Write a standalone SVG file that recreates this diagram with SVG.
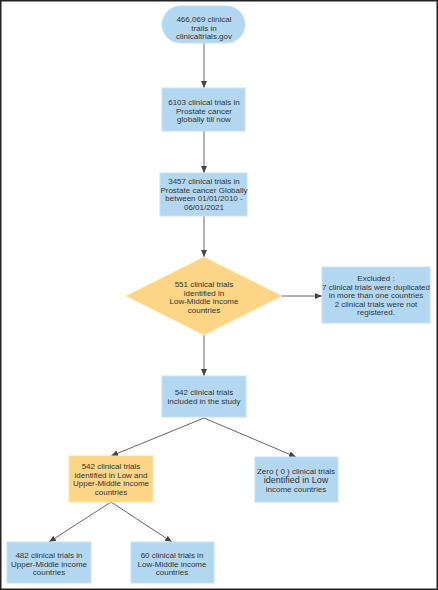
<svg xmlns="http://www.w3.org/2000/svg" width="438" height="590" viewBox="0 0 438 590">
<style>
.b{fill:#b3d7f1;stroke:#c6e1f5;stroke-width:1}
.o{fill:#fdd587;stroke:#fde2ab;stroke-width:1}
text{font-family:"Liberation Sans",Arial,sans-serif;font-size:8px;fill:#333;text-anchor:middle}
.c line{stroke:#666;stroke-width:1}
</style>
<defs>
<marker id="a" markerWidth="8" markerHeight="8" refX="7" refY="4" orient="auto" markerUnits="userSpaceOnUse">
<path d="M0,1 L7,4 L0,7 Z" fill="#444"/>
</marker>
</defs>
<rect x="0.75" y="0.75" width="436.5" height="588.5" fill="#fff" stroke="#222" stroke-width="1.5"/>
<g class="c">
<line x1="204" y1="43" x2="204" y2="88" marker-end="url(#a)"/>
<line x1="204" y1="131" x2="204" y2="173" marker-end="url(#a)"/>
<line x1="204" y1="216" x2="204" y2="257" marker-end="url(#a)"/>
<line x1="282" y1="296" x2="322" y2="296" marker-end="url(#a)"/>
<line x1="204" y1="335" x2="204" y2="376" marker-end="url(#a)"/>
<line x1="204" y1="418" x2="111" y2="456" marker-end="url(#a)"/>
<line x1="204" y1="418" x2="296" y2="457" marker-end="url(#a)"/>
<line x1="111" y1="502" x2="49" y2="542" marker-end="url(#a)"/>
<line x1="111" y1="502" x2="172" y2="542" marker-end="url(#a)"/>
</g>
<g id="n1"><rect class="b" x="162" y="6" width="83" height="37" rx="18.5"/>
<text x="204" y="22">466,069 clinical</text><text x="204" y="30.5">trails in</text><text x="204" y="39">clinicaltrials.gov</text></g>
<g id="n2"><rect class="b" x="162" y="88" width="83" height="43"/>
<text x="204" y="105">6103 clinical trials in</text><text x="204" y="113.5">Prostate cancer</text><text x="204" y="122">globally till now</text></g>
<g id="n3"><rect class="b" x="160" y="173" width="87" height="43"/>
<text x="204" y="184">3457 clinical trials in</text><text x="204" y="192.5">Prostate cancer Globally</text><text x="204" y="201">between 01/01/2010 -</text><text x="204" y="209.5">06/01/2021</text></g>
<g id="n4"><path class="o" d="M204,257 L282,296 L204,335 L126,296 Z"/>
<text x="204" y="287">551 clinical trials</text><text x="204" y="295.5">identified in</text><text x="204" y="304">Low-Middle income</text><text x="204" y="312.5">countries</text></g>
<g id="n5"><rect class="b" x="322" y="267" width="108" height="56"/>
<text x="376" y="281">Excluded :</text><text x="376" y="289.5">7 clinical trials were duplicated</text><text x="376" y="298">in more than one countries</text><text x="376" y="306.5">2 clinical trials were not</text><text x="376" y="315">registered.</text></g>
<g id="n6"><rect class="b" x="162" y="376" width="84" height="41"/>
<text x="204" y="395">542 clinical trials</text><text x="204" y="403.5">included in the study</text></g>
<g id="n7"><rect class="o" x="69" y="456" width="84" height="46"/>
<text x="111" y="469">542 clinical trials</text><text x="111" y="477.5">identified in Low and</text><text x="111" y="486">Upper-Middle income</text><text x="111" y="494.5">countries</text></g>
<g id="n8"><rect class="b" x="255" y="457" width="83" height="45"/>
<text x="296" y="474">Zero ( 0 ) clinical trials</text><text x="296" y="483" style="font-size:9px">identified in Low</text><text x="296" y="492">income countries</text></g>
<g id="n9"><rect class="b" x="7" y="542" width="84" height="41"/>
<text x="49" y="558">482 clinical trials in</text><text x="49" y="566.5">Upper-Middle income</text><text x="49" y="575">countries</text></g>
<g id="n10"><rect class="b" x="131" y="542" width="83" height="41"/>
<text x="172" y="558">60 clinical trials in</text><text x="172" y="566.5">Low-Middle income</text><text x="172" y="575">countries</text></g>
</svg>
